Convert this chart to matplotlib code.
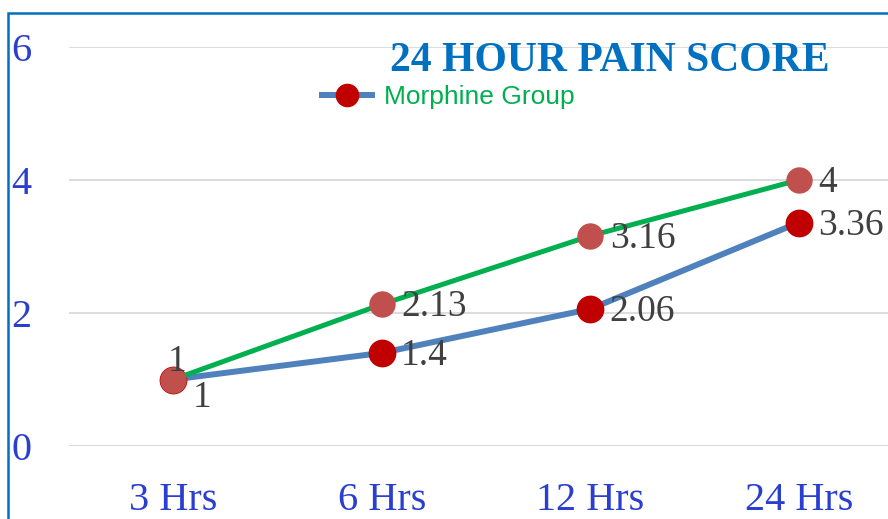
import matplotlib.pyplot as plt
from matplotlib.patches import Rectangle
from matplotlib.lines import Line2D

# chart data
categories = ['3 Hrs', '6 Hrs', '12 Hrs', '24 Hrs']
morphine = [1, 1.4, 2.06, 3.36]
other_group = [1, 2.13, 3.16, 4]
yticks = [0, 2, 4, 6]

fig = plt.figure(figsize=(8.88, 5.19), dpi=100)
# plot area runs past the right edge of the picture (cropped chart)
ax = fig.add_axes([69 / 888, 73 / 519, 834 / 888, 399 / 519])

x = list(range(len(categories)))

ax.plot(x, morphine, color='#4F81BD', lw=4.3, marker='o', markersize=19,
        markerfacecolor='#C00000', markeredgecolor='#C00000', zorder=3,
        solid_capstyle='round')
ax.plot(x, other_group, color='#00B050', lw=3.6, marker='o', markersize=18,
        markerfacecolor='#C0504D', markeredgecolor='#C0504D', zorder=4,
        solid_capstyle='round')

lab_font = dict(family='Liberation Serif', size=27, color='#404040')
for i, v in enumerate(morphine):
    if i == 0:
        ax.annotate(f'{v:g}', (i, v), xytext=(14, -13), textcoords='offset points',
                    ha='left', va='center', zorder=6, **lab_font)
    else:
        ax.annotate(f'{v:g}', (i, v), xytext=(14, -2), textcoords='offset points',
                    ha='left', va='center', zorder=6, **lab_font)
for i, v in enumerate(other_group):
    if i == 0:
        ax.annotate(f'{v:g}', (i, v), xytext=(3, 13), textcoords='offset points',
                    ha='center', va='center', zorder=6, **lab_font)
    else:
        ax.annotate(f'{v:g}', (i, v), xytext=(14, -2), textcoords='offset points',
                    ha='left', va='center', zorder=6, **lab_font)

ax.set_xlim(-0.5, 3.5)
ax.set_ylim(0, 6)
ax.set_xticks(x)
ax.set_xticklabels(categories, family='Liberation Serif', size=29, color='#2A3FD0')
ax.set_yticks(yticks)
ax.set_yticklabels([str(t) for t in yticks], family='Liberation Serif', size=29,
                   color='#2A3FD0')
ax.tick_params(axis='x', length=0, pad=26)
ax.tick_params(axis='y', length=0, pad=27)
ax.grid(axis='y', color='#D9D9D9', lw=1.3)
ax.set_axisbelow(True)
for s in ax.spines.values():
    s.set_visible(False)
ax.patch.set_alpha(0)

fig.text(610 / 888, 1 - 61 / 519, '24 HOUR PAIN SCORE', family='Liberation Serif',
         weight='bold', size=30, color='#0070C0', ha='center', va='center')

# legend entry
leg_handle = Line2D([], [], color='#4F81BD', lw=4.3, marker='o', markersize=16,
                    markerfacecolor='#C00000', markeredgecolor='#C00000')
leg = fig.legend([leg_handle], ['Morphine Group'], loc='center left',
                 bbox_to_anchor=(322 / 888, 1 - 97 / 519), frameon=False,
                 handlelength=1.9, handletextpad=0.45, borderpad=0,
                 borderaxespad=0, prop={'family': 'Liberation Sans', 'size': 19})
for t in leg.get_texts():
    t.set_color('#00B050')

# outer chart border
fig.patches.append(Rectangle((8 / 888, -0.1), 1.2, 1 - 13 / 519 + 0.1,
                             transform=fig.transFigure, fill=False,
                             edgecolor='#0070C0', lw=1.8))

fig.savefig('out.png', dpi=100)
